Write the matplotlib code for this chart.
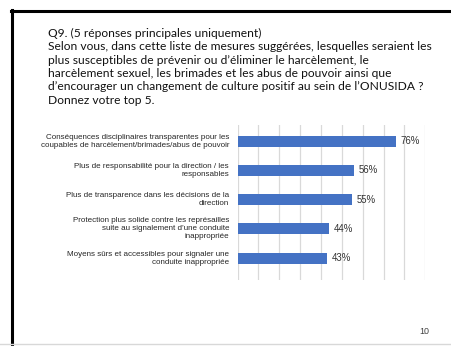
import matplotlib
matplotlib.use("Agg")
import matplotlib.pyplot as plt
from matplotlib.lines import Line2D

W, H = 451, 346
DPI = 100

title_lines = [
    "Q9. (5 réponses principales uniquement)",
    "Selon vous, dans cette liste de mesures suggérées, lesquelles seraient les",
    "plus susceptibles de prévenir ou d\u2019éliminer le harcèlement, le",
    "harcèlement sexuel, les brimades et les abus de pouvoir ainsi que",
    "d\u2019encourager un changement de culture positif au sein de l\u2019ONUSIDA ?",
    "Donnez votre top 5.",
]

categories = [
    "Conséquences disciplinaires transparentes pour les\ncoupables de harcèlement/brimades/abus de pouvoir",
    "Plus de responsabilité pour la direction / les\nresponsables",
    "Plus de transparence dans les décisions de la\ndirection",
    "Protection plus solide contre les représailles\nsuite au signalement d\u2019une conduite\ninappropriée",
    "Moyens sûrs et accessibles pour signaler une\nconduite inappropriée",
]
values = [76, 56, 55, 44, 43]
page_number = "10"

fig = plt.figure(figsize=(W / DPI, H / DPI), dpi=DPI)
fig.patch.set_facecolor("white")


def fx(px):
    return px / W


def fy(py):
    return 1 - py / H


# slide frame
fig.add_artist(Line2D([fx(12), fx(12)], [fy(10), fy(346)], color="black", lw=2.2))
fig.add_artist(Line2D([fx(11), fx(451)], [fy(11), fy(11)], color="black", lw=2.2))
fig.add_artist(Line2D([0, 1], [fy(344), fy(344)], color="#d8d8d8", lw=1.0))

# question text
for i, line in enumerate(title_lines):
    fig.text(fx(48), fy(37 + i * 13.3), line, fontsize=8.65, family="Lato",
             color="#111111", ha="left", va="baseline")

# bar chart
ax = fig.add_axes([fx(237.5), fy(280), fx(425.3) - fx(237.5), fy(125) - fy(280)])
ypos = list(range(len(values)))
ax.barh(ypos, values, height=0.376, color="#4472C4", zorder=3)
ax.set_xlim(0, 90)
ax.set_ylim(4.75, -0.55)
ax.set_xticks(range(0, 91, 10))
ax.grid(axis="x", color="#d9d9d9", lw=0.9, zorder=0)
ax.tick_params(left=False, bottom=False, labelbottom=False, labelleft=False)
for s in ax.spines.values():
    s.set_visible(False)

for y, v in zip(ypos, values):
    ax.annotate(f"{v}%", (v, y), xytext=(3.3, 0), textcoords="offset points",
                ha="left", va="center", fontsize=6.9, family="Liberation Sans",
                color="#333333")

for y, lab in zip(ypos, categories):
    ax.annotate(lab, (0, y), xytext=(-6.1, 0), textcoords="offset points",
                xycoords=("axes fraction", "data"),
                ha="right", va="center", fontsize=5.8, family="Liberation Sans",
                color="#262626", linespacing=1.2, multialignment="right")

fig.text(fx(424), fy(331), page_number, fontsize=6.4, family="Liberation Sans",
         color="#404040", ha="center", va="center")

fig.savefig("out.png", dpi=DPI)
